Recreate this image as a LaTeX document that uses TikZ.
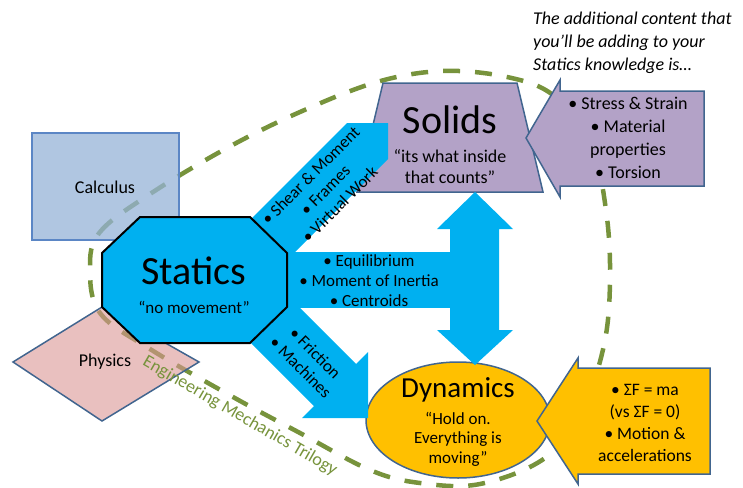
\documentclass[tikz,border=0pt]{standalone}
\usepackage{fontspec}
\setmainfont{Carlito}
\usetikzlibrary{positioning, calc}

\definecolor{statblue}{HTML}{00B0F0}
\definecolor{solidpurple}{HTML}{B3A2C7}
\definecolor{dynyellow}{HTML}{FFC000}
\definecolor{trilgreen}{HTML}{77933C}
\definecolor{edgeblue}{HTML}{41658F}
\definecolor{calcblue}{HTML}{95B3D7}
\definecolor{calcedge}{HTML}{5B86C5}
\definecolor{physpink}{HTML}{DA9694}

\begin{document}
\begin{tikzpicture}[
        x=1pt, y=-1pt,
        txt/.style = {align=center, inner sep=0pt, font=\fontsize{18}{22}\selectfont},
        arrowtxt/.style = {align=center, inner sep=0pt, font=\fontsize{17}{20.5}\selectfont},
        title/.style = {inner sep=0pt, font=\fontsize{40}{44}\selectfont},
        blockarrow/.style = {fill=statblue, draw=none},
        outlined/.style = {draw=edgeblue, line width=1.5pt}
    ]
    \useasboundingbox (0,0) rectangle (743,487);

    % dashed trilogy outline
    \draw[trilgreen, line width=4.5pt, dash pattern=on 17pt off 15pt]
        plot[smooth cycle, tension=0.6] coordinates {(90,268) (100,232) (150,194) (227,148) (300,112)
            (377,82) (443,71) (507,77) (553,95) (590,140) (606,210) (610,280) (604,345) (582,410)
            (545,458) (480,484) (420,483) (370,470) (300,433) (233,397) (150,349) (100,313)};

    % side subjects
    \draw[calcedge, line width=1.5pt, fill=calcblue, fill opacity=0.75] (32,133) rectangle (179,240);
    \draw[edgeblue, line width=1.5pt, fill=physpink, fill opacity=0.6]
        (13,362) -- (102,307) -- (199,362) -- (102,421) -- cycle;

    % solids and dynamics
    \draw[outlined, fill=solidpurple] (383,83) -- (517,83) -- (543,192) -- (357,192) -- cycle;
    \draw[outlined, fill=dynyellow] (458,420) ellipse [x radius=92pt, y radius=58pt];

    % cyan arrows out of statics
    \fill[blockarrow] (230,240) -- (347,123) -- (388,123) -- (388,159) -- (270,277) -- cycle;
    \fill[blockarrow] (260,252) rectangle (452,308);
    \fill[blockarrow] (475,192) -- (513,229) -- (499,229) -- (499,330) -- (513,330) -- (475,365)
        -- (437,330) -- (450,330) -- (450,229) -- (437,229) -- cycle;
    \fill[blockarrow] (250,258) -- (356,364) -- (368,352) -- (368,418) -- (302,418) -- (314,406)
        -- (200,292) -- cycle;

    % statics octagon
    \draw[black, line width=2pt, fill=statblue] (140,217) -- (250,217) -- (287,253) -- (287,307)
        -- (250,343) -- (140,343) -- (102,307) -- (102,253) -- cycle;

    % incoming content arrows
    \draw[outlined, fill=solidpurple] (526,138) -- (560,80) -- (560,91) -- (704,91) -- (704,186)
        -- (560,186) -- (560,197) -- cycle;
    \draw[outlined, fill=dynyellow] (537,421) -- (578,358) -- (578,368) -- (710,368) -- (710,474)
        -- (578,474) -- (578,484) -- cycle;

    % labels
    \node (calculus) [txt] at (105,187) {Calculus};
    \node (physics)  [txt] at (105,362) {Physics};
    \node (statics)  [title] at (194,271) {Statics};
    \node (staticsnote) [txt, font=\fontsize{17}{20}\selectfont, below=16pt of statics] {“no movement”};
    \node (solids)   [title] at (450,120) {Solids};
    \node (solidsnote) [txt, font=\fontsize{18}{21}\selectfont] at (450,167) {“its what inside\\that counts”};
    \node (dynamics) [title, font=\fontsize{29}{32}\selectfont] at (458,390) {Dynamics};
    \node (dynamicsnote) [arrowtxt, font=\fontsize{17}{19.5}\selectfont] at (458,439)
        {“Hold on.\\Everything is\\moving”};
    \node (solidsinfo) [txt, font=\fontsize{18}{23}\selectfont] at (628,138)
        {• Stress \& Strain\\• Material\\properties\\• Torsion};
    \node (dynamicsinfo) [txt, font=\fontsize{17.5}{22}\selectfont] at (645,423)
        {• ΣF = ma\\(vs ΣF = 0)\\• Motion \&\\accelerations};
    \node (shearlist) [arrowtxt, rotate=45] at (325,190) {• Shear \& Moment\\• Frames\\• Virtual Work};
    \node (centrelist) [arrowtxt, font=\fontsize{17}{20}\selectfont] at (369,281)
        {• Equilibrium\\• Moment of Inertia\\• Centroids};
    \node (frictionlist) [arrowtxt, rotate=-45] at (308,360) {• Friction\\• Machines};
    \node (note) [txt, align=left, anchor=west, font=\fontsize{18}{23}\selectfont\itshape] at (533,43)
        {The additional content that\\you’ll be adding to your\\Statics knowledge is…};
    \node (trilogy) [txt, text=trilgreen, rotate=-30] at (240,416) {Engineering Mechanics Trilogy};
\end{tikzpicture}
\end{document}
